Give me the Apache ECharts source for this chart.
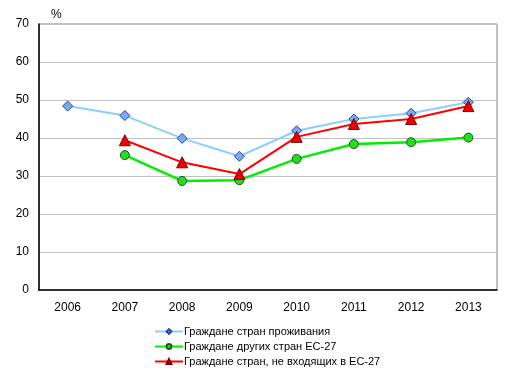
<!DOCTYPE html>
<html><head><meta charset="utf-8">
<script src="https://cdn.jsdelivr.net/npm/echarts@6/dist/echarts.min.js"></script>
<style>html,body{margin:0;padding:0;background:#fff}#c{width:513px;height:374px}</style>
</head><body><div id="c"></div>
<script>
var years = ['2006','2007','2008','2009','2010','2011','2012','2013'];
var seriesNames = ['Граждане стран проживания','Граждане других стран ЕС-27','Граждане стран, не входящих в ЕС-27'];
var residence = [48.4, 45.9, 39.9, 35.2, 41.9, 45.0, 46.5, 49.4];
var otherEU = [null, 35.5, 28.7, 28.9, 34.5, 38.4, 38.9, 40.1];
var nonEU = [null, 39.4, 33.6, 30.5, 40.3, 43.7, 45.0, 48.4];
var yTicks = [0, 10, 20, 30, 40, 50, 60, 70];

var font = 'Liberation Sans, Arial, sans-serif';
var chart = echarts.init(document.getElementById('c'));
chart.setOption({
  animation: false,
  grid: {left: 39, top: 24, right: 16, bottom: 84, show: true, borderColor: '#808080', borderWidth: 1},
  graphic: [{type: 'text', left: 51, top: 9, style: {text: '%', font: '12px ' + font, fill: '#000'}}],
  legend: {
    orient: 'vertical', left: 149, top: 321, itemGap: 4, itemWidth: 28, itemHeight: 6,
    textStyle: {fontFamily: font, fontSize: 11, color: '#000', padding: [0,0,0,-4]},
    data: seriesNames
  },
  xAxis: {
    type: 'category', data: years, boundaryGap: true,
    axisLine: {lineStyle: {color: '#000', width: 1.5}},
    axisTick: {show: false},
    axisLabel: {fontFamily: font, fontSize: 12, color: '#000', margin: 12}
  },
  yAxis: {
    type: 'value', min: yTicks[0], max: yTicks[yTicks.length-1], interval: 10,
    axisLine: {show: true, lineStyle: {color: '#000', width: 1.5}},
    axisTick: {show: false},
    splitLine: {lineStyle: {color: '#c0c0c0'}},
    axisLabel: {fontFamily: font, fontSize: 12, color: '#000', margin: 10}
  },
  series: [
    {name: seriesNames[0], type: 'line', data: residence, symbol: 'diamond', symbolSize: 10,
     lineStyle: {color: '#8ccfff', width: 2}, itemStyle: {color: '#7aaaf0', borderColor: '#2a3fa0', borderWidth: 1}},
    {name: seriesNames[1], type: 'line', data: otherEU, symbol: 'circle', symbolSize: 9,
     lineStyle: {color: '#00ee00', width: 2.5}, itemStyle: {color: '#22dd22', borderColor: '#1a5a1a', borderWidth: 1}},
    {name: seriesNames[2], type: 'line', data: nonEU, symbol: 'triangle', symbolSize: 11,
     lineStyle: {color: '#ff0000', width: 2}, itemStyle: {color: '#ee0000', borderColor: '#800000', borderWidth: 1}}
  ]
});
</script></body></html>
